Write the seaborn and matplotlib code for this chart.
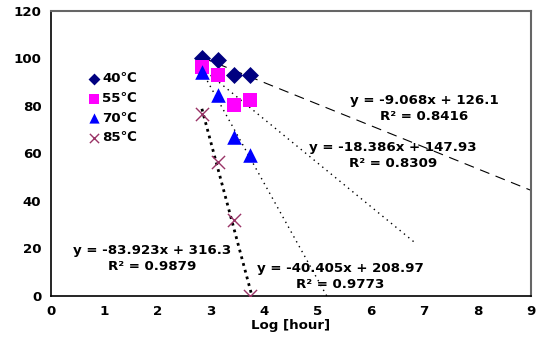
import numpy as np
import pandas as pd
import matplotlib
matplotlib.use("Agg")
import matplotlib.pyplot as plt
import seaborn as sns

# data
log_hour = [2.83, 3.14, 3.43, 3.74]
temps = ["40℃", "55℃", "70℃", "85℃"]
val_40 = [100, 99.5, 93, 93]
val_55 = [96.5, 93, 80.5, 82.5]
val_70 = [94.5, 84.5, 67, 59.5]
val_85 = [76.5, 56.5, 32, 0]

# trendline coefficients (Excel labels) and forecast end
slopes = [-9.068, -18.386, -40.405, -83.923]
intercepts = [126.1, 147.93, 208.97, 316.3]
r2 = [0.8416, 0.8309, 0.9773, 0.9879]
line_end = [9.0, 6.8, 5.17, 3.77]

colors = ["#000080", "#FF00FF", "#0000FF", "#993366"]
markers = ["D", "s", "^", "x"]

df = pd.DataFrame({
    "x": log_hour * 4,
    "y": val_40 + val_55 + val_70 + val_85,
    "temp": np.repeat(temps, 4),
})

sns.set_style("white")
plt.rcParams["font.family"] = ["DejaVu Sans"]
plt.rcParams["font.weight"] = "bold"
plt.rcParams["text.color"] = "black"
plt.rcParams["axes.labelcolor"] = "black"
plt.rcParams["xtick.color"] = "black"
plt.rcParams["ytick.color"] = "black"

FS = 9.6

fig = plt.figure(figsize=(5.39, 3.42), dpi=100)
ax = fig.add_axes([0.0946, 0.1345, 0.8904, 0.8335])

# trendlines
styles = [dict(ls=(0, (9, 6)), lw=0.8, color="black"),
          dict(ls=(0, (1, 3)), lw=1.0, color="black"),
          dict(ls=(0, (1, 3)), lw=1.0, color="black"),
          dict(ls=(0, (1, 1.5)), lw=2.0, color="black")]
for m, b, xe, st in zip(slopes, intercepts, line_end, styles):
    xs = np.array([log_hour[0], xe])
    ax.plot(xs, m * xs + b, zorder=1, **st)

sizes = {"40℃": 75, "55℃": 110, "70℃": 110, "85℃": 90}
for t, c, mk in zip(temps, colors, markers):
    sub = df[df.temp == t]
    sns.scatterplot(data=sub, x="x", y="y", ax=ax, color=c, marker=mk,
                    s=sizes[t], linewidth=1 if mk == "x" else 0,
                    label=t, zorder=3)

# equation labels
label_pos = [(7.0, 79), (6.41, 59), (5.42, 8.2), (1.9, 15.6)]
for m, b, r, (lx, ly) in zip(slopes, intercepts, r2, label_pos):
    txt = f"y = {m:g}x + {b:g}\nR² = {r:.4f}"
    ax.text(lx, ly, txt, ha="center", va="center", fontsize=FS,
            fontweight="bold", linespacing=1.3, zorder=4)

ax.set_xlim(0, 9)
ax.set_ylim(0, 120)
ax.set_xticks(range(0, 10))
ax.set_yticks(range(0, 121, 20))
ax.set_xlabel("Log [hour]", fontsize=FS, fontweight="bold", labelpad=1)
ax.set_ylabel("")
ax.tick_params(direction="in", length=3, width=0.8, labelsize=FS)
ax.tick_params(axis="x", pad=6.5)
ax.tick_params(axis="y", pad=7)
for lab in ax.get_xticklabels() + ax.get_yticklabels():
    lab.set_fontweight("bold")

for side in ["left", "bottom"]:
    ax.spines[side].set_color("black")
    ax.spines[side].set_linewidth(1.2)
for side in ["top", "right"]:
    ax.spines[side].set_color("#666666")
    ax.spines[side].set_linewidth(1.5)

ax.legend(loc="upper left", bbox_to_anchor=(0.065, 0.803), frameon=False,
          handletextpad=0.1, labelspacing=0.5, borderaxespad=0,
          handlelength=1.0, markerscale=0.7,
          prop={"weight": "bold", "size": FS})

fig.savefig("out.png", dpi=100)
